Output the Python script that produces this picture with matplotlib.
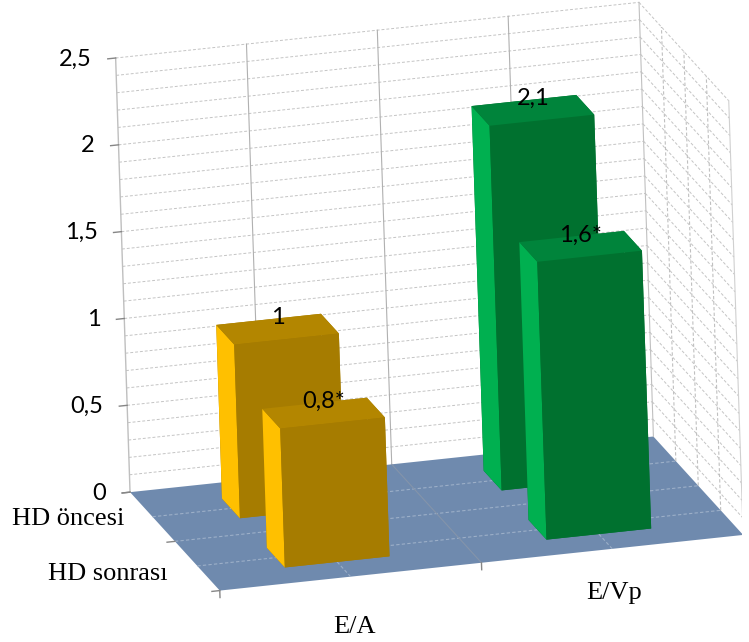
import numpy as np
import matplotlib
matplotlib.use('Agg')
import matplotlib.pyplot as plt
from mpl_toolkits.mplot3d.art3d import Poly3DCollection
from mpl_toolkits.mplot3d import proj3d

categories = ['E/A', 'E/Vp']
series = ['HD öncesi', 'HD sonrası']
values_oncesi = [1.0, 2.1]
values_sonrasi = [0.8, 1.6]
labels_oncesi = ['1', '2,1']
labels_sonrasi = ['0,8*', '1,6*']
z_ticks = [0, 0.5, 1, 1.5, 2, 2.5]
z_ticklabels = ['0', '0,5', '1', '1,5', '2', '2,5']

side_colors = ['#FFC000', '#00B050']
front_colors = ['#A67C00', '#00712F']
top_colors = ['#B38600', '#00843B']
floor_color = '#6F8AAE'

fig = plt.figure(figsize=(7.49, 6.42), dpi=100)
ax = fig.add_axes([0.0617, 0.0247, 1, 1], projection='3d', computed_zorder=False)
ax.set_proj_type('ortho')
ax.view_init(elev=17, azim=-104, roll=1.9)
ax.set_box_aspect((530, 350, 445), zoom=1.197)
ax.set_axis_off()

nx = len(categories)
ny = len(series)
zmax = z_ticks[-1]

# floor
floor = Poly3DCollection([[(0, 0, 0), (nx, 0, 0), (nx, ny, 0), (0, ny, 0)]],
                         facecolors=floor_color, edgecolors='none', zorder=0.5)
ax.add_collection3d(floor)

grid_c = '#C4C4C4'
dash = (0, (3, 2))
# wall gridlines
for z in np.arange(0.1, zmax + 0.001, 0.1):
    ax.plot([0, nx], [ny, ny], [z, z], color=grid_c, lw=0.7, ls=dash, zorder=1)
    ax.plot([nx, nx], [ny, 0], [z, z], color=grid_c, lw=0.7, ls=dash, zorder=1)
for xv in np.arange(0.5, nx, 0.5):
    ax.plot([xv, xv], [ny, ny], [0, zmax], color='#B0B0B0', lw=0.8, zorder=1)
for yv in np.arange(0.5, ny, 0.5):
    ax.plot([nx, nx], [yv, yv], [0, zmax], color='#C0C0C0', lw=0.8, ls=dash, zorder=1)
ax.plot([nx, nx], [ny, ny], [0, zmax], color='#C0C0C0', lw=0.8, zorder=1)
ax.plot([nx, nx], [0, 0], [0, zmax], color='#D0D0D0', lw=0.8, zorder=1)
# floor gridlines
for yv in np.arange(0.5, ny, 0.5):
    ax.plot([0, nx], [yv, yv], [0, 0], color='#9CAFC8', lw=0.8, ls=dash, zorder=1)
for xv in np.arange(0.5, nx, 0.5):
    solid = abs(xv - round(xv)) < 1e-9
    ax.plot([xv, xv], [0, ny], [0, 0], color='#8494AA' if solid else '#9CAFC8',
            lw=0.8, ls='-' if solid else dash, zorder=1)

# axis lines and tick marks
ax.plot([0, 0], [ny, ny], [0, zmax], color='#BFBFBF', lw=1.0, zorder=1.2)
for zt in z_ticks:
    ax.plot([-0.03, 0], [ny, ny], [zt, zt], color='#868686', lw=1.0, zorder=1.2)
for yv in range(ny + 1):
    ax.plot([-0.03, 0], [yv, yv], [0, 0], color='#868686', lw=1.0, zorder=1.2)
for xv in range(nx + 1):
    ax.plot([xv, xv], [0, 0], [-0.04, 0], color='#868686', lw=1.0, zorder=1.2)

# bars
bw, bd = 0.4, 0.4
zo = 3
for row, vals in enumerate([values_oncesi, values_sonrasi]):
    yc = ny - 0.5 - row
    for i in range(nx):
        xc = i + 0.5
        # face order: -z, +z, -y, +y, -x, +x
        fc = [front_colors[i], top_colors[i], front_colors[i], front_colors[i],
              side_colors[i], front_colors[i]]
        ax.bar3d(xc - bw / 2, yc - bd / 2, 0, bw, bd, vals[i], color=fc,
                 shade=False, edgecolor='none', linewidth=0, zorder=zo)
        zo += 1

ax.set_xlim(0, nx)
ax.set_ylim(0, ny)
ax.set_zlim(0, zmax)

# texts placed at projected 3D anchor points (2D annotations)
fig.canvas.draw()
M = ax.get_proj()


def anchor(x, y, z):
    xs, ys, _ = proj3d.proj_transform(x, y, z, M)
    return (xs, ys)


PX = 0.72  # points per pixel at 100 dpi
for zt, zl in zip(z_ticks, z_ticklabels):
    ax.annotate(zl, anchor(0, ny, zt), xytext=(-24 * PX, -1 * PX),
                textcoords='offset points', ha='right', va='center',
                fontsize=17, family='Lato', annotation_clip=False, zorder=10)

series_offsets = [(-28, -2), (-30, -8)]
for i, s in enumerate(series):
    yc = ny - 0.5 - i
    dx, dy = series_offsets[i]
    ax.annotate(s, anchor(0, yc, 0), xytext=(dx * PX, dy * PX),
                textcoords='offset points', ha='right', va='center',
                fontsize=19, family='Liberation Serif', annotation_clip=False,
                zorder=10)

category_offsets = [(4, -50), (2, -44)]
for i, c in enumerate(categories):
    dx, dy = category_offsets[i]
    ax.annotate(c, anchor(i + 0.5, 0, 0), xytext=(dx * PX, dy * PX),
                textcoords='offset points', ha='center', va='center',
                fontsize=19, family='Liberation Serif', annotation_clip=False,
                zorder=10)

for row, (vals, labs) in enumerate([(values_oncesi, labels_oncesi),
                                    (values_sonrasi, labels_sonrasi)]):
    yc = ny - 0.5 - row
    for i in range(nx):
        ax.annotate(labs[i], anchor(i + 0.5, yc, vals[i]), xytext=(0, 1 * PX),
                    textcoords='offset points', ha='center', va='bottom',
                    fontsize=17, family='Lato', annotation_clip=False, zorder=20)

fig.savefig('out.png', dpi=100)
